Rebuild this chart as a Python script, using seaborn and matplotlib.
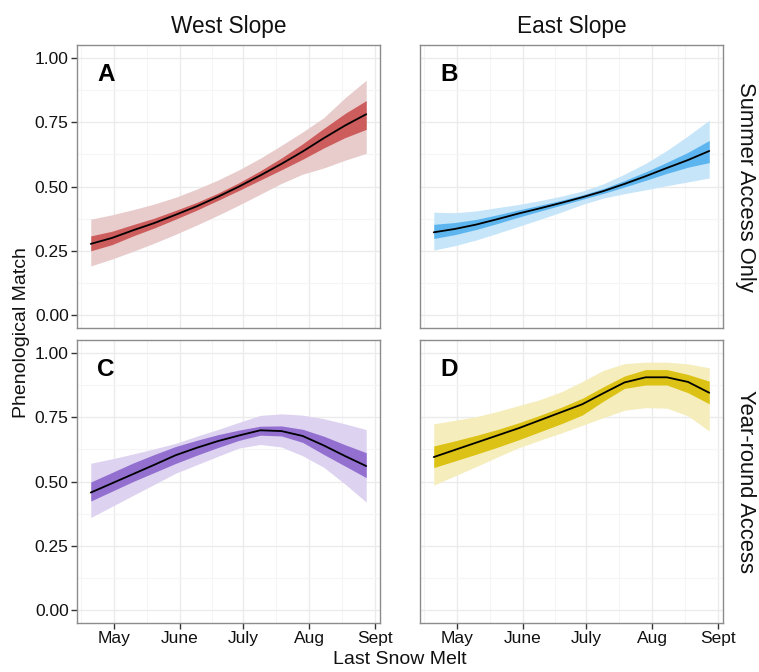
import numpy as np
import pandas as pd
import matplotlib
matplotlib.use("Agg")
import matplotlib.pyplot as plt
import seaborn as sns

# ---- data ----
day = [110, 120, 130, 140, 150, 160, 170, 180, 190, 200, 210, 220, 230, 240]

month_ticks = [121, 152, 182, 213, 244]
month_labels = ["May", "June", "July", "Aug", "Sept"]

slopes = ["West Slope", "East Slope"]
access = ["Summer Access Only", "Year-round Access"]
panel_letters = ["A", "B", "C", "D"]

# Panel A (West, Summer)
a_fit = [0.277, 0.300, 0.330, 0.358, 0.390, 0.423, 0.460, 0.500, 0.543, 0.588, 0.636, 0.688, 0.737, 0.781]
a_lo95 = [0.191, 0.218, 0.248, 0.280, 0.314, 0.350, 0.388, 0.428, 0.470, 0.512, 0.548, 0.572, 0.602, 0.629]
a_hi95 = [0.373, 0.390, 0.410, 0.432, 0.458, 0.490, 0.525, 0.565, 0.610, 0.660, 0.712, 0.768, 0.845, 0.913]
a_lo50 = [0.250, 0.274, 0.308, 0.339, 0.373, 0.408, 0.446, 0.485, 0.525, 0.565, 0.606, 0.650, 0.690, 0.722]
a_hi50 = [0.308, 0.326, 0.352, 0.377, 0.407, 0.438, 0.474, 0.515, 0.561, 0.611, 0.666, 0.726, 0.784, 0.834]

# Panel B (East, Summer)
b_fit = [0.322, 0.335, 0.352, 0.373, 0.395, 0.415, 0.436, 0.458, 0.482, 0.510, 0.540, 0.572, 0.603, 0.638]
b_lo95 = [0.253, 0.270, 0.292, 0.318, 0.345, 0.372, 0.400, 0.430, 0.455, 0.472, 0.487, 0.503, 0.518, 0.533]
b_hi95 = [0.400, 0.398, 0.405, 0.418, 0.430, 0.445, 0.462, 0.482, 0.510, 0.548, 0.590, 0.640, 0.697, 0.758]
b_lo50 = [0.298, 0.313, 0.333, 0.356, 0.381, 0.404, 0.427, 0.450, 0.473, 0.498, 0.524, 0.551, 0.575, 0.593]
b_hi50 = [0.353, 0.360, 0.372, 0.390, 0.409, 0.427, 0.446, 0.467, 0.492, 0.523, 0.557, 0.594, 0.633, 0.679]

# Panel C (West, Year-round)
c_fit = [0.457, 0.493, 0.529, 0.565, 0.602, 0.631, 0.657, 0.679, 0.699, 0.696, 0.677, 0.640, 0.599, 0.560]
c_lo95 = [0.360, 0.403, 0.446, 0.489, 0.532, 0.565, 0.598, 0.630, 0.644, 0.634, 0.600, 0.555, 0.490, 0.420]
c_hi95 = [0.571, 0.588, 0.607, 0.627, 0.648, 0.676, 0.702, 0.730, 0.757, 0.763, 0.758, 0.744, 0.724, 0.702]
c_lo50 = [0.424, 0.462, 0.500, 0.535, 0.570, 0.602, 0.632, 0.660, 0.680, 0.677, 0.652, 0.605, 0.560, 0.515]
c_hi50 = [0.498, 0.535, 0.572, 0.605, 0.636, 0.660, 0.682, 0.700, 0.715, 0.716, 0.703, 0.676, 0.643, 0.612]

# Panel D (East, Year-round)
d_fit = [0.595, 0.623, 0.651, 0.679, 0.707, 0.738, 0.769, 0.800, 0.843, 0.885, 0.905, 0.905, 0.887, 0.845]
d_lo95 = [0.486, 0.522, 0.558, 0.595, 0.631, 0.660, 0.688, 0.718, 0.748, 0.777, 0.787, 0.785, 0.755, 0.696]
d_hi95 = [0.724, 0.738, 0.752, 0.772, 0.795, 0.818, 0.848, 0.888, 0.932, 0.958, 0.964, 0.964, 0.957, 0.942]
d_lo50 = [0.554, 0.580, 0.606, 0.633, 0.662, 0.693, 0.724, 0.758, 0.812, 0.862, 0.875, 0.875, 0.845, 0.802]
d_hi50 = [0.638, 0.658, 0.679, 0.702, 0.728, 0.757, 0.788, 0.823, 0.868, 0.910, 0.935, 0.935, 0.916, 0.890]

dark_cols = ["#cd5c5c", "#5db5ef", "#9370d0", "#dcc214"]
light_cols = ["#e8cccc", "#c6e5f9", "#ddd3f0", "#f5edbb"]

fits = [a_fit, b_fit, c_fit, d_fit]
lo95 = [a_lo95, b_lo95, c_lo95, d_lo95]
hi95 = [a_hi95, b_hi95, c_hi95, d_hi95]
lo50 = [a_lo50, b_lo50, c_lo50, d_lo50]
hi50 = [a_hi50, b_hi50, c_hi50, d_hi50]

frames = []
for i in range(4):
    frames.append(pd.DataFrame({
        "day": day, "fit": fits[i], "lo95": lo95[i], "hi95": hi95[i],
        "lo50": lo50[i], "hi50": hi50[i], "panel": panel_letters[i]}))
df = pd.concat(frames, ignore_index=True)

# ---- style ----
sns.set_theme(style="white")
plt.rcParams["font.family"] = ["Liberation Sans", "DejaVu Sans"]

fig = plt.figure(figsize=(7.59, 6.72), dpi=100)
W, H = 759, 672
lefts = [77, 420]
tops = [45, 340]
pw, ph = 303, 283

axes = []
for r in range(2):
    for c in range(2):
        ax = fig.add_axes([lefts[c] / W, 1 - (tops[r] + ph) / H, pw / W, ph / H])
        axes.append(ax)

for i, ax in enumerate(axes):
    r, c = divmod(i, 2)
    sub = df[df["panel"] == panel_letters[i]]
    ax.set_facecolor("white")
    ax.fill_between(sub["day"], sub["lo95"], sub["hi95"], color=light_cols[i], lw=0, zorder=2)
    ax.fill_between(sub["day"], sub["lo50"], sub["hi50"], color=dark_cols[i], lw=0, zorder=3)
    sns.lineplot(data=sub, x="day", y="fit", color="black", lw=1.3, ax=ax, zorder=4)
    ax.set_xlim(103.5, 246.5)
    ax.set_ylim(-0.05, 1.05)
    ax.set_xticks(month_ticks)
    ax.set_xticks([105.5, 136.5, 167, 197.5, 228.5], minor=True)
    ax.set_yticks([0, 0.25, 0.5, 0.75, 1.0])
    ax.set_yticks([0.125, 0.375, 0.625, 0.875], minor=True)
    ax.grid(True, which="major", color="#ebebeb", lw=1.0, zorder=0)
    ax.grid(True, which="minor", color="#f5f5f5", lw=0.8, zorder=0)
    ax.set_axisbelow(True)
    for s in ax.spines.values():
        s.set_color("#8c8c8c")
        s.set_linewidth(1.0)
        s.set_visible(True)
    ax.set_xlabel("")
    ax.set_ylabel("")
    ax.tick_params(which="minor", length=0)
    ax.tick_params(which="major", length=4, width=1.0, color="#333333",
                   labelsize=12.5, labelcolor="#111111", pad=2)
    ax.tick_params(axis="x", bottom=(r == 1), labelbottom=(r == 1))
    ax.tick_params(axis="y", left=(c == 0), labelleft=(c == 0))
    if r == 1:
        ax.set_xticklabels(month_labels)
    if c == 0:
        ax.set_yticklabels(["0.00", "0.25", "0.50", "0.75", "1.00"])
    ax.text(0.066, 0.897, panel_letters[i], transform=ax.transAxes, ha="left",
            va="center", fontsize=17.5, fontweight="bold", color="black")
    if r == 0:
        ax.set_title(slopes[c], fontsize=16.3, pad=9, color="#111111")
    if c == 1:
        ax.text(1.075, 0.5, access[r], transform=ax.transAxes, rotation=-90,
                ha="center", va="center", fontsize=15.8, color="#111111")

fig.text((77 + 723) / 2 / W, 1 - 660 / H, "Last Snow Melt", ha="center", va="center",
         fontsize=14, color="#111111")
fig.text(22 / W, 1 - 333 / H, "Phenological Match", ha="center", va="center",
         rotation=90, fontsize=14, color="#111111")

fig.savefig("out.png", dpi=100)
